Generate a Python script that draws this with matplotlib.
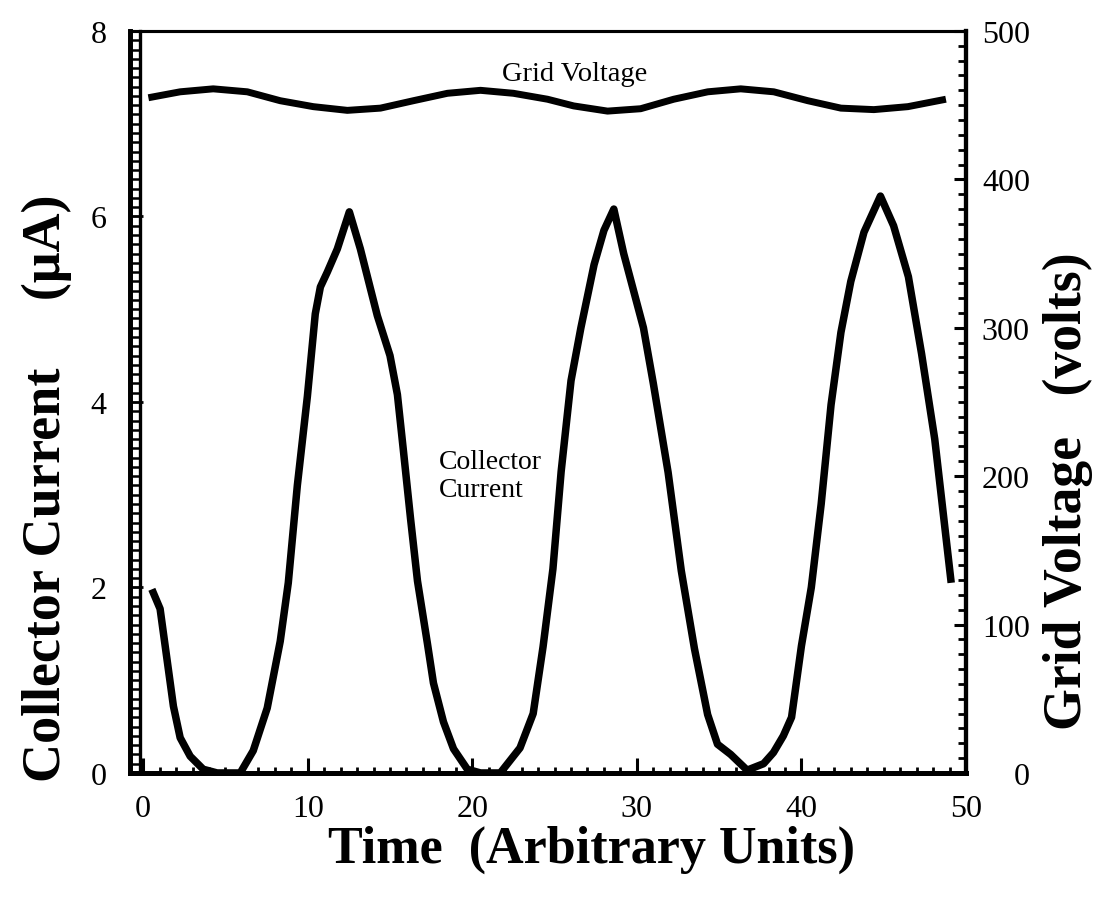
import matplotlib
matplotlib.use('Agg')
import matplotlib.pyplot as plt
import matplotlib.transforms as mtransforms
from matplotlib.lines import Line2D
from matplotlib.ticker import MultipleLocator

plt.rcParams['font.family'] = ['Liberation Serif', 'DejaVu Serif']

# collector current (uA) vs time
t_current = [0.53, 1.03, 1.84, 2.25, 2.86, 3.65, 4.5, 5.9, 6.69, 7.54, 8.33, 8.82,
             9.37, 9.98, 10.46, 10.77, 11.19, 11.8, 12.53, 13.2, 13.8, 14.23, 15.0,
             15.45, 15.8, 16.25, 16.67, 17.27, 17.64, 18.25, 18.86, 19.7, 20.5, 21.3,
             21.7, 22.9, 23.7, 24.3, 24.9, 25.4, 26.0, 26.6, 27.4, 28.0, 28.6, 29.2,
             30.4, 31.0, 31.9, 32.7, 33.5, 34.3, 34.9, 35.7, 36.7, 37.7, 38.3, 38.9,
             39.4, 40.0, 40.6, 41.2, 41.8, 42.4, 43.0, 43.8, 44.8, 45.6, 46.5, 47.3,
             48.1, 49.1]
current = [1.98, 1.77, 0.72, 0.38, 0.18, 0.04, 0.0, 0.0, 0.24, 0.70, 1.42, 2.05,
           3.10, 4.06, 4.95, 5.24, 5.40, 5.65, 6.05, 5.65, 5.23, 4.93, 4.50,
           4.08, 3.50, 2.74, 2.07, 1.40, 0.97, 0.55, 0.26, 0.04, 0.0, 0.0,
           0.0, 0.27, 0.64, 1.36, 2.20, 3.25, 4.23, 4.80, 5.48, 5.85, 6.08, 5.60,
           4.80, 4.20, 3.24, 2.18, 1.34, 0.63, 0.31, 0.20, 0.03, 0.10, 0.22, 0.40,
           0.60, 1.37, 2.00, 2.90, 3.97, 4.75, 5.30, 5.83, 6.22, 5.90, 5.35, 4.52,
           3.60, 2.05]

# grid voltage (volts) vs time
t_voltage = [0.32, 2.25, 4.26, 6.33, 8.33, 10.34, 12.41, 14.42, 16.42, 18.49, 20.5,
             22.5, 24.57, 26.16, 28.22, 30.23, 32.24, 34.31, 36.31, 38.32, 40.39,
             42.4, 44.4, 46.47, 48.78]
voltage = [455, 459, 461, 459, 453, 449, 446.5, 448, 453, 458, 460,
           458, 454, 449.5, 446, 447.6, 454, 459, 461, 459, 453,
           448, 447, 449, 454]

W, H = 1094, 903
fig = plt.figure(figsize=(W / 100, H / 100), dpi=100)
ax = fig.add_axes([0.1188, 0.1429, 0.7642, 0.8217])
ax2 = ax.twinx()

ax.plot(t_current, current, color='black', lw=5.4, solid_joinstyle='round',
        solid_capstyle='butt', zorder=3)
ax2.plot(t_voltage, voltage, color='black', lw=5.0, solid_joinstyle='round',
         solid_capstyle='butt')

ax.set_xlim(-0.8, 50)
ax.set_ylim(0, 8)
ax2.set_ylim(0, 500)

# spines
for side, w in [('left', 3.4), ('bottom', 3.6), ('top', 2.2), ('right', 3.0)]:
    ax.spines[side].set_linewidth(w)
    ax2.spines[side].set_linewidth(w)

# second line of the left "ladder" axis
off = mtransforms.ScaledTranslation(0.10, 0, fig.dpi_scale_trans)
ax.add_line(Line2D([0, 0], [0, 1], transform=ax.transAxes + off, color='black',
                   lw=2.4, clip_on=False))

tick_font = 23
ax.xaxis.set_major_locator(MultipleLocator(10))
ax.xaxis.set_minor_locator(MultipleLocator(1))
ax.yaxis.set_major_locator(MultipleLocator(2))
ax.yaxis.set_minor_locator(MultipleLocator(0.1))
ax2.yaxis.set_major_locator(MultipleLocator(100))
ax2.yaxis.set_minor_locator(MultipleLocator(10))

ax.tick_params(axis='x', which='major', direction='in', length=11, width=2.2,
               pad=15, labelsize=tick_font, top=False)
ax.tick_params(axis='x', which='minor', direction='in', length=4, width=2.0, top=False)
ax.tick_params(axis='y', which='major', direction='in', length=9, width=2.0,
               pad=17, labelsize=tick_font, right=False)
ax.tick_params(axis='y', which='minor', direction='in', length=7.2, width=1.8, right=False)
ax2.tick_params(axis='y', which='major', direction='in', length=9, width=2.2,
                pad=46, labelsize=tick_font)
ax2.tick_params(axis='y', which='minor', direction='in', length=6, width=2.0)
plt.setp(ax2.get_yticklabels(), ha='right')

# axis titles, placed where they sit on the page
fig.text(592 / W, 1 - 850 / H, 'Time  (Arbitrary Units)', fontsize=37.5,
         fontweight='bold', ha='center', va='center')
fig.text(47 / W, 1 - 488 / H, 'Collector Current     (\u03bcA)', fontsize=39,
         fontweight='bold', ha='center', va='center', rotation=90)
fig.text(1068 / W, 1 - 491 / H, 'Grid Voltage   (volts)', fontsize=38.7,
         fontweight='bold', ha='center', va='center', rotation=90)

ax.text(26.2, 7.54, 'Grid Voltage', fontsize=20.5, ha='center', va='center')
ax.text(18.0, 3.21, 'Collector\nCurrent', fontsize=20, ha='left', va='center',
        linespacing=1.15)

fig.savefig('out.png', dpi=100)
